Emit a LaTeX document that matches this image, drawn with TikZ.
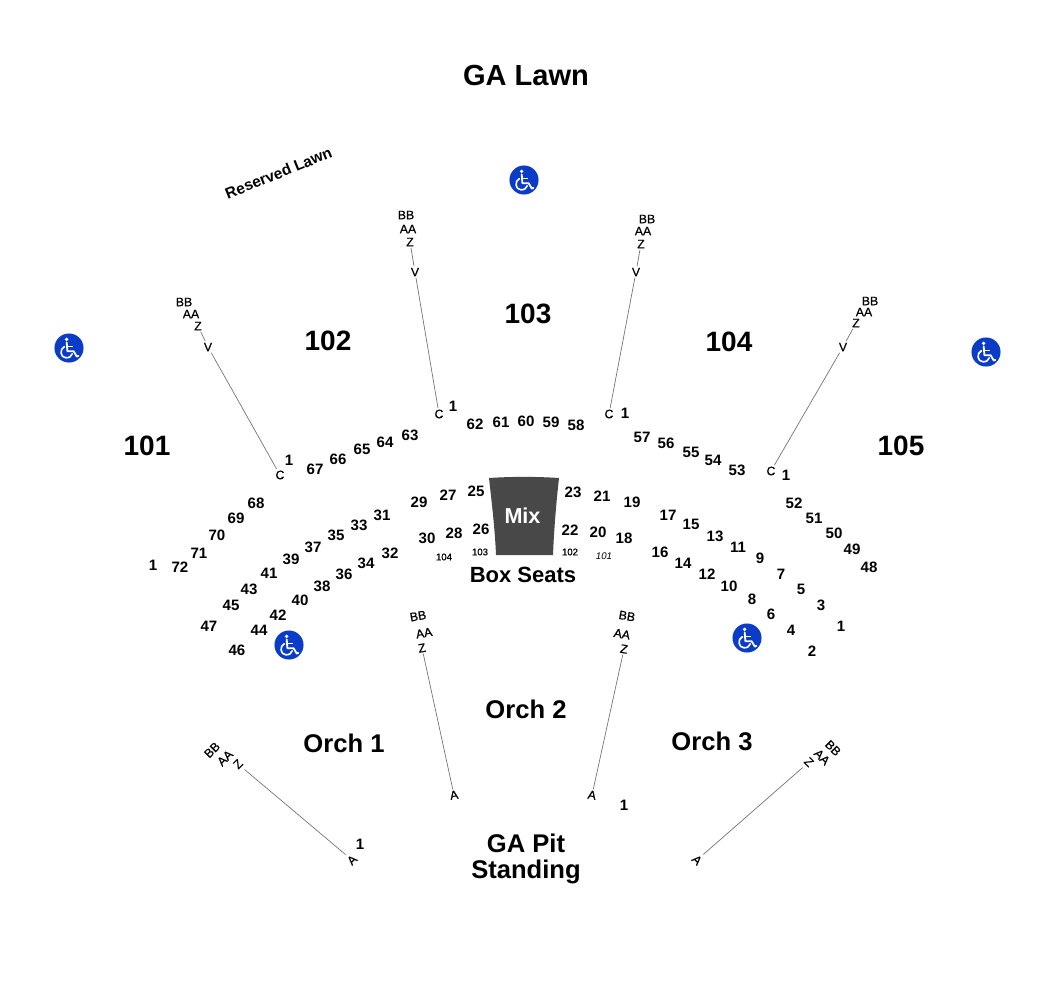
\documentclass[tikz,border=0pt]{standalone}
\usepackage{fontspec}
\setmainfont{Liberation Sans}
\newfontfamily\medfont[FakeBold=0.5]{Liberation Sans}
\definecolor{wcblue}{HTML}{0A3CC8}
\definecolor{mixgray}{HTML}{484848}
\definecolor{linegray}{HTML}{707070}
\newcommand{\pxf}[1]{\fontsize{#1}{#1}\selectfont}
\tikzset{
  seatno/.style={font=\bfseries\pxf{11.3}, inner sep=0pt},
  rowlet/.style={font=\medfont\pxf{9.2}, inner sep=1pt},
  tiny/.style={font=\medfont\pxf{7.2}, inner sep=0pt},
  section/.style={font=\bfseries\pxf{21}, inner sep=0pt},
  orch/.style={font=\bfseries\pxf{19.2}, inner sep=0pt},
  aisle/.style={draw=linegray, line width=0.5pt},
}
\newcommand{\wheel}[3]{%
  \begin{scope}[shift={(#2,#3)}]
    \node[circle, fill=wcblue, minimum size=21.8pt, inner sep=0pt] (#1) at (0,0) {};
    \fill[white] (-2.4,-8.6) circle (1.9);
    \draw[white, line width=1.35pt, line cap=round, line join=round] (-2.3,-5.6) -- (-1.6,3.2) -- (4.6,3.2) -- (7.8,8.6) -- (9.4,7.8);
    \draw[white, line width=1pt] (-1.9,-1.5) -- (3.8,-1.5);
    \draw[white, line width=1.2pt, line cap=round] (-4.5,-1.4) .. controls (-9.8,1.2) and (-8.8,9.6) .. (-3,9.8) .. controls (0.4,9.9) and (2.6,8.2) .. (3.2,5.8);
  \end{scope}}
\begin{document}
\begin{tikzpicture}[x=0.75pt,y=-0.75pt]
\useasboundingbox (0,0) rectangle (1050,990);
\fill[white] (0,0) rectangle (1050,990);
% titles
\node[font=\bfseries\pxf{21.8}, inner sep=0pt] (lawn) at (526,75) {GA Lawn};
\node[font=\bfseries\pxf{11.6}, inner sep=0pt, rotate=22] (reserved) at (278.5,173) {Reserved Lawn};
\node[section] (sec101) at (147,446) {101};
\node[section] (sec102) at (328,341) {102};
\node[section] (sec103) at (528,314) {103};
\node[section] (sec104) at (729,342) {104};
\node[section] (sec105) at (901,446) {105};
\node[orch] (orch1) at (344,743) {Orch 1};
\node[orch] (orch2) at (526,709) {Orch 2};
\node[orch] (orch3) at (712,741) {Orch 3};
\node[orch] (pit1) at (526,843) {GA Pit};
\node[orch] (pit2) at (526,872) {Standing};
\node[font=\bfseries\pxf{16.5}, inner sep=0pt] (box) at (523,575) {Box Seats};
% mix
\fill[mixgray] (489,478) .. controls (512,476.5) and (536,476.5) .. (559,478) .. controls (556,505) and (554,530) .. (553,555) -- (496,555) .. controls (495,530) and (492,505) .. (489,478) -- cycle;
\node[font=\bfseries\pxf{16.2}, text=white, inner sep=0pt] (mix) at (522.5,516) {Mix};
% seat numbers
\foreach \t/\x/\y [count=\i] in {
 1/153/565,72/180/567,71/199/553,70/217/535,69/236/518,68/256/503,
 1/289/460,67/315/469,66/338/459,65/362/449,64/385/442,63/410/435,
 1/453/406,62/475/424,61/501/422,60/526/421,59/551/422,58/576/425,
 1/625/413,57/642/437,56/666/443,55/691/452,54/713/460,53/737/470,
 1/786/475,52/794/503,51/814/518,50/834/533,49/852/549,48/869/567,
 47/209/626,45/231/605,43/249/589,41/269/573,39/291/559,37/313/547,35/336/535,33/359/525,31/382/515,29/419/502,27/448/495,25/476/491,
 46/237/650,44/259/630,42/278/615,40/300/600,38/322/586,36/344/574,34/366/563,32/390/553,30/427/538,28/454/533,26/481/529,
 23/573/492,21/602/496,19/632/502,17/668/515,15/691/524,13/715/536,11/738/547,9/760/558,7/781/574,5/801/589,3/821/605,1/841/626,
 22/570/530,20/598/532,18/624/538,16/660/552,14/683/563,12/707/574,10/729/586,8/752/599,6/771/614,4/791/630,2/812/651,
 1/624/805,1/360/844}
  \node[seatno] (seat\i) at (\x,\y) {\t};
\node[tiny] (b104) at (444,557) {104};
\node[tiny] (b103) at (480,552) {103};
\node[tiny] (b102) at (570,552) {102};
\node[tiny, font=\itshape\pxf{7.2}] (b101) at (604,556) {101};
% row letters upper
\node[rowlet] (bb101) at (184,302) {BB};
\node[rowlet] (aa101) at (191,314) {AA};
\node[rowlet] (z101) at (198,326) {Z};
\node[rowlet] (v101) at (208,347) {V};
\node[rowlet] (c101) at (280,475) {C};
\node[rowlet] (bb102) at (406,215) {BB};
\node[rowlet] (aa102) at (408,229) {AA};
\node[rowlet] (z102) at (410,242) {Z};
\node[rowlet] (v102) at (415,272) {V};
\node[rowlet] (c102) at (439,414) {C};
\node[rowlet] (bb103) at (647,219) {BB};
\node[rowlet] (aa103) at (643,231) {AA};
\node[rowlet] (z103) at (641,244) {Z};
\node[rowlet] (v103) at (636,272) {V};
\node[rowlet] (c103) at (609,414) {C};
\node[rowlet] (bb104) at (870,301) {BB};
\node[rowlet] (aa104) at (864,312) {AA};
\node[rowlet] (z104) at (856,323) {Z};
\node[rowlet] (v104) at (843,347) {V};
\node[rowlet] (c104) at (771,471) {C};
\foreach \s in {101,102,103,104} {
  \draw[aisle] (z\s) -- (v\s);
  \draw[aisle] (v\s) -- (c\s);
}
% row letters orchestra
\node[rowlet, rotate=10] (bbo2) at (418,616) {BB};
\node[rowlet, rotate=10] (aao2) at (424,633) {AA};
\node[rowlet, rotate=10] (zo2) at (422,648) {Z};
\node[rowlet, rotate=10] (ao2) at (454,795) {A};
\node[rowlet, rotate=-10] (bbo3) at (627,616) {BB};
\node[rowlet, rotate=-10] (aao3) at (622,634) {AA};
\node[rowlet, rotate=-10] (zo3) at (624,649) {Z};
\node[rowlet, rotate=-10] (ao3) at (592,795) {A};
\node[rowlet, rotate=45] (bbo1) at (212,750) {BB};
\node[rowlet, rotate=45] (aao1) at (225,758) {AA};
\node[rowlet, rotate=45] (zo1) at (238,764) {Z};
\node[rowlet, rotate=45] (ao1) at (352,860) {A};
\node[rowlet, rotate=-45] (bbo4) at (833,748) {BB};
\node[rowlet, rotate=-45] (aao4) at (822,757) {AA};
\node[rowlet, rotate=-45] (zo4) at (809,762) {Z};
\node[rowlet, rotate=-45] (ao4) at (697,860) {A};
\foreach \s in {o1,o4}
  \draw[aisle, shorten <=2pt, shorten >=2pt] (z\s) -- (a\s);
\foreach \s in {o2,o3}
  \draw[aisle] (z\s) -- (a\s);
% wheelchairs
\wheel{wa}{524}{180}
\wheel{wb}{69}{348}
\wheel{wc}{986}{352}
\wheel{wd}{289}{645}
\wheel{we}{747}{638}
\end{tikzpicture}
\end{document}
